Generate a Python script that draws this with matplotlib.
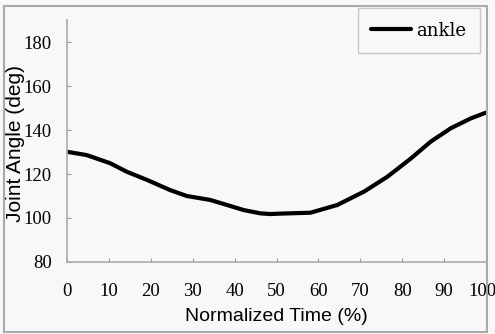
import matplotlib
matplotlib.use('Agg')
import matplotlib.pyplot as plt
from matplotlib.patches import Rectangle
from matplotlib.transforms import ScaledTranslation

# Ankle joint angle over the normalized gait cycle
time_pct = [0, 4.7, 10.3, 14.3, 19.1, 24.6, 28.6, 34.2, 38.2, 42.2, 46.2, 48.6, 51,
            58.1, 64.5, 70.9, 76.5, 82.1, 86.8, 91.6, 96.4, 100]
ankle_deg = [130.1, 128.6, 124.9, 121.0, 117.3, 112.7, 110.0, 108.2, 105.9, 103.6, 102.1,
             101.8, 102.0, 102.4, 105.9, 112.0, 118.8, 127.1, 134.7, 140.8, 145.3, 147.9]
x_ticks = [0, 10, 20, 30, 40, 50, 60, 70, 80, 90, 100]
y_ticks = [80, 100, 120, 140, 160, 180]

bg = '#f8f8f8'
fig = plt.figure(figsize=(4.95, 3.34), dpi=100, facecolor=bg)
ax = fig.add_axes([67 / 495, 1 - 262 / 334, (486 - 67) / 495, (262 - 20) / 334])
ax.set_facecolor(bg)

ax.plot(time_pct, ankle_deg, color='black', linewidth=3, label='ankle',
        solid_joinstyle='round', solid_capstyle='round')

ax.set_xlim(0, 100)
ax.set_ylim(80, 190)
ax.set_xticks(x_ticks)
ax.set_yticks(y_ticks)
ax.tick_params(direction='in', length=3, color='#999999', labelsize=13.5, pad=11)
ax.tick_params(axis='x', pad=15)
for lbl in ax.get_xticklabels() + ax.get_yticklabels():
    lbl.set_family('Liberation Serif')
# last x label sits against the border; nudge it inside the picture
last = ax.get_xticklabels()[-1]
last.set_transform(last.get_transform() + ScaledTranslation(-4 / 100, 0, fig.dpi_scale_trans))

for side in ['top', 'right']:
    ax.spines[side].set_visible(False)
for side in ['left', 'bottom']:
    ax.spines[side].set_color('#aaaaaa')
    ax.spines[side].set_linewidth(1.2)

ax.set_xlabel('Normalized Time (%)', fontsize=14, family='Liberation Sans')
ax.set_ylabel('Joint Angle (deg)', fontsize=15, family='Liberation Sans')
ax.xaxis.set_label_coords(0.5, (262 - 308) / 242)
ax.yaxis.set_label_coords((25 - 67) / 419, 0.49)

leg = ax.legend(loc='upper right', bbox_to_anchor=(480 / 495, 1 - 8 / 334),
                bbox_transform=fig.transFigure, prop={'family': 'DejaVu Serif', 'size': 13},
                fancybox=False, frameon=True, handlelength=2.2, handletextpad=0.3,
                borderpad=0.75, borderaxespad=0)
leg.get_frame().set_edgecolor('#bbbbbb')
leg.get_frame().set_facecolor(bg)

# scanned-figure border
fig.patches.append(Rectangle((4 / 495, 2 / 334), 483 / 495, 326 / 334, transform=fig.transFigure,
                             fill=False, edgecolor='#aaaaaa', linewidth=1.5))

plt.savefig('out.png', dpi=100)
plt.close(fig)
